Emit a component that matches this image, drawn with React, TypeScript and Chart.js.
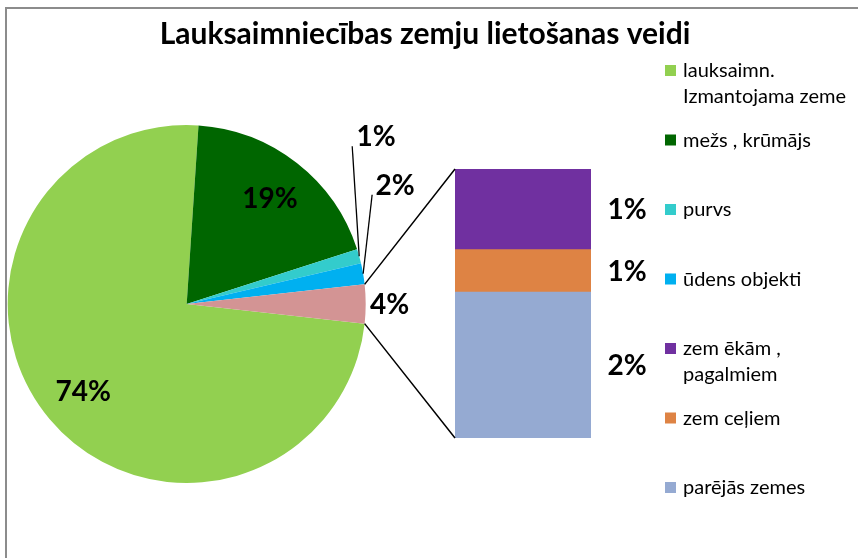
import React, { useEffect, useRef } from "react";
import { Chart, registerables } from "chart.js";
Chart.register(...registerables);

const TITLE = "Lauksaimniecības zemju lietošanas veidi";
const pieCategories = ["lauksaimn. Izmantojama zeme", "mežs , krūmājs", "purvs", "ūdens objekti"];
const pieValues = [74.3, 19.0, 1.3, 1.9];
const pieColors = ["#92D050", "#006600", "#33CCCC", "#00B0F0"];
const otherColor = "#D39494";
const barCategories = ["zem ēkām , pagalmiem", "zem ceļiem", "parējās zemes"];
const barValues = [1.05, 0.55, 1.9];
const barColors = ["#7030A0", "#DE8344", "#95AAD2"];
const legendLines = [
  ["lauksaimn.", "Izmantojama zeme"],
  ["mežs , krūmājs"],
  ["purvs"],
  ["ūdens objekti"],
  ["zem ēkām ,", "pagalmiem"],
  ["zem ceļiem"],
  ["parējās zemes"],
];
const legendColors = [...pieColors, ...barColors];

const W = 858;
const H = 558;
const LABEL_SIZE = 28;
const LABEL_FONT = `bold ${LABEL_SIZE}px Lato`;
const sum = (a: number[]) => a.reduce((s, v) => s + v, 0);

function drawPct(ctx: CanvasRenderingContext2D, text: string, cx: number, cy: number) {
  ctx.save();
  ctx.font = LABEL_FONT;
  ctx.fillStyle = "#000";
  ctx.textAlign = "center";
  ctx.textBaseline = "alphabetic";
  ctx.fillText(text, cx, cy + LABEL_SIZE * 0.36);
  ctx.restore();
}

export default function App() {
  const pieRef = useRef<HTMLCanvasElement>(null);
  const barRef = useRef<HTMLCanvasElement>(null);

  useEffect(() => {
    const otherSum = sum(barValues);
    const total = sum(pieValues) + otherSum;
    const pieData = [...pieValues, otherSum];

    const labelSpec: any[] = [
      { mode: "inside", f: 0.755 },
      { mode: "inside", f: 0.755 },
      { mode: "leader", dx: 17, dy: -120, lx: -7, ly: -110 },
      { mode: "leader", dx: 32, dy: -89, lx: 9, ly: -79 },
      { mode: "outside", dx: 24, dy: 0 },
    ];

    const piePlugin = {
      id: "pieExtras",
      afterDatasetsDraw(chart: any) {
        const ctx = chart.ctx as CanvasRenderingContext2D;
        const meta = chart.getDatasetMeta(0);
        meta.data.forEach((arc: any, i: number) => {
          const p = arc.getProps(["x", "y", "startAngle", "endAngle", "outerRadius"], true);
          const mid = (p.startAngle + p.endAngle) / 2;
          const txt = Math.round((pieData[i] / total) * 100) + "%";
          const spec = labelSpec[i];
          const ex = p.x + Math.cos(mid) * p.outerRadius;
          const ey = p.y + Math.sin(mid) * p.outerRadius;
          if (spec.mode === "inside") {
            drawPct(ctx, txt, p.x + Math.cos(mid) * p.outerRadius * spec.f, p.y + Math.sin(mid) * p.outerRadius * spec.f);
          } else if (spec.mode === "leader") {
            ctx.save();
            ctx.strokeStyle = "#000";
            ctx.lineWidth = 1.3;
            ctx.beginPath();
            ctx.moveTo(ex, ey);
            ctx.lineTo(ex + spec.lx, ey + spec.ly);
            ctx.stroke();
            ctx.restore();
            drawPct(ctx, txt, ex + spec.dx, ey + spec.dy);
          } else {
            drawPct(ctx, txt, ex + spec.dx, ey + spec.dy);
          }
        });

        // title
        ctx.save();
        ctx.font = "bold 30px Lato";
        ctx.fillStyle = "#000";
        ctx.textAlign = "center";
        ctx.textBaseline = "alphabetic";
        ctx.fillText(TITLE, 425, 43.5);
        ctx.restore();

        // legend
        ctx.save();
        ctx.font = "20px Lato";
        ctx.textAlign = "left";
        ctx.textBaseline = "middle";
        legendLines.forEach((lines, i) => {
          const y0 = 71 + i * 69.5;
          ctx.fillStyle = legendColors[i];
          ctx.fillRect(665, y0 - 6, 11, 11);
          ctx.fillStyle = "#000";
          lines.forEach((ln, j) => ctx.fillText(ln, 683, y0 + j * 26));
        });
        ctx.restore();
      },
    };

    const pie = new Chart(pieRef.current!, {
      type: "pie",
      data: {
        labels: [...pieCategories, "other"],
        datasets: [
          {
            data: pieData,
            backgroundColor: [...pieColors, otherColor],
            borderWidth: 0,
          },
        ],
      },
      options: {
        responsive: false,
        animation: false,
        events: [],
        rotation: 90 + (otherSum / total) * 180,
        layout: { padding: { left: 7.7, right: W - 365.7, top: 125, bottom: H - 483 } },
        plugins: { legend: { display: false }, tooltip: { enabled: false }, title: { display: false } },
      },
      plugins: [piePlugin],
    });

    const barPlugin = {
      id: "barExtras",
      afterDatasetsDraw(chart: any) {
        const ctx = chart.ctx as CanvasRenderingContext2D;
        const n = chart.data.datasets.length;
        const topEl = chart.getDatasetMeta(n - 1).data[0] as any;
        const botEl = chart.getDatasetMeta(0).data[0] as any;
        const left = topEl.x - topEl.width / 2;
        const right = topEl.x + topEl.width / 2;
        const top = topEl.y;
        const bottom = botEl.base;
        const arc = pie.getDatasetMeta(0).data[pieData.length - 1] as any;
        const p = arc.getProps(["x", "y", "startAngle", "endAngle", "outerRadius"], true);
        ctx.save();
        ctx.strokeStyle = "#000";
        ctx.lineWidth = 1.5;
        ctx.beginPath();
        ctx.moveTo(p.x + Math.cos(p.startAngle) * p.outerRadius, p.y + Math.sin(p.startAngle) * p.outerRadius);
        ctx.lineTo(left, top);
        ctx.moveTo(p.x + Math.cos(p.endAngle) * p.outerRadius, p.y + Math.sin(p.endAngle) * p.outerRadius);
        ctx.lineTo(left, bottom);
        ctx.stroke();
        ctx.restore();
        chart.data.datasets.forEach((ds: any, i: number) => {
          const el = chart.getDatasetMeta(i).data[0] as any;
          const cy = (el.y + el.base) / 2;
          drawPct(ctx, Math.round((ds.data[0] / total) * 100) + "%", right + 36, cy);
        });
      },
    };

    const order = [2, 1, 0];
    const bar = new Chart(barRef.current!, {
      type: "bar",
      data: {
        labels: [""],
        datasets: order.map((k) => ({
          label: barCategories[k],
          data: [barValues[k]],
          backgroundColor: barColors[k],
          borderWidth: 0,
          categoryPercentage: 1,
          barPercentage: 1,
        })),
      },
      options: {
        responsive: false,
        animation: false,
        events: [],
        layout: { padding: { left: 455, right: W - 591, top: 169, bottom: H - 438 } },
        scales: {
          x: { display: false, stacked: true },
          y: { display: false, stacked: true, min: 0, max: otherSum },
        },
        plugins: { legend: { display: false }, tooltip: { enabled: false } },
      },
      plugins: [barPlugin],
    });

    return () => {
      bar.destroy();
      pie.destroy();
    };
  }, []);

  return (
    <div style={{ position: "fixed", left: 0, top: 0, width: W, height: H, background: "#fff", overflow: "hidden" }}>
      <div
        style={{
          position: "absolute",
          left: 5,
          top: 7,
          width: W,
          height: H,
          borderTop: "2px solid #8c8c8c",
          borderLeft: "2px solid #8c8c8c",
        }}
      />
      <canvas ref={pieRef} width={W} height={H} style={{ position: "absolute", left: 0, top: 0 }} />
      <canvas ref={barRef} width={W} height={H} style={{ position: "absolute", left: 0, top: 0 }} />
    </div>
  );
}
